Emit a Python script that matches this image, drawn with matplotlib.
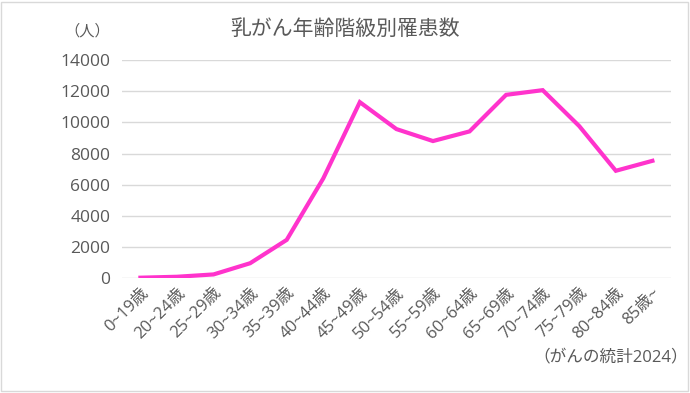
import matplotlib.pyplot as plt
from matplotlib.patches import Rectangle

plt.rcParams['font.family'] = ['Open Sans', 'Noto Sans CJK JP', 'DejaVu Sans']

age_groups = ['0~19歳', '20~24歳', '25~29歳', '30~34歳', '35~39歳', '40~44歳',
              '45~49歳', '50~54歳', '55~59歳', '60~64歳', '65~69歳', '70~74歳',
              '75~79歳', '80~84歳', '85歳~']
cases = [20, 80, 230, 950, 2450, 6400, 11300, 9570, 8800, 9420,
         11770, 12070, 9760, 6890, 7530]
y_ticks = [0, 2000, 4000, 6000, 8000, 10000, 12000, 14000]

fig = plt.figure(figsize=(6.9, 3.93), dpi=100)
ax = fig.add_axes([0.177, 0.2926, 0.795, 0.5544])

ax.plot(range(len(cases)), cases, color='#FF33CC', linewidth=3, solid_joinstyle='miter')

ax.set_xlim(-0.5, len(cases) - 0.5)
ax.set_ylim(0, 14000)
ax.set_yticks(y_ticks)
ax.set_yticklabels([str(v) for v in y_ticks], fontsize=12.5, color='#595959')
ax.set_xticks(range(len(age_groups)))
ax.set_xticklabels(age_groups, rotation=45, ha='right', rotation_mode='anchor',
                   fontsize=12, color='#595959')
ax.tick_params(axis='both', length=0)
ax.tick_params(axis='y', pad=8.5)
ax.tick_params(axis='x', pad=5)
ax.grid(axis='y', color='#D9D9D9', linewidth=1)
ax.set_axisbelow(True)
for s in ax.spines.values():
    s.set_visible(False)

fig.text(0.5, 0.924, '乳がん年齢階級別罹患数', ha='center', va='center',
         fontsize=15, color='#595959')
fig.text(0.127, 0.918, '（人）', ha='center', va='center', fontsize=11, color='#595959')
fig.text(0.997, 0.088, '（がんの統計2024）', ha='right', va='center',
         fontsize=12, color='#595959')

fig.patches.append(Rectangle((0.002, 0.004), 0.995, 0.992, transform=fig.transFigure,
                             fill=False, edgecolor='#D9D9D9', linewidth=1))

fig.savefig('out.png', dpi=100)
